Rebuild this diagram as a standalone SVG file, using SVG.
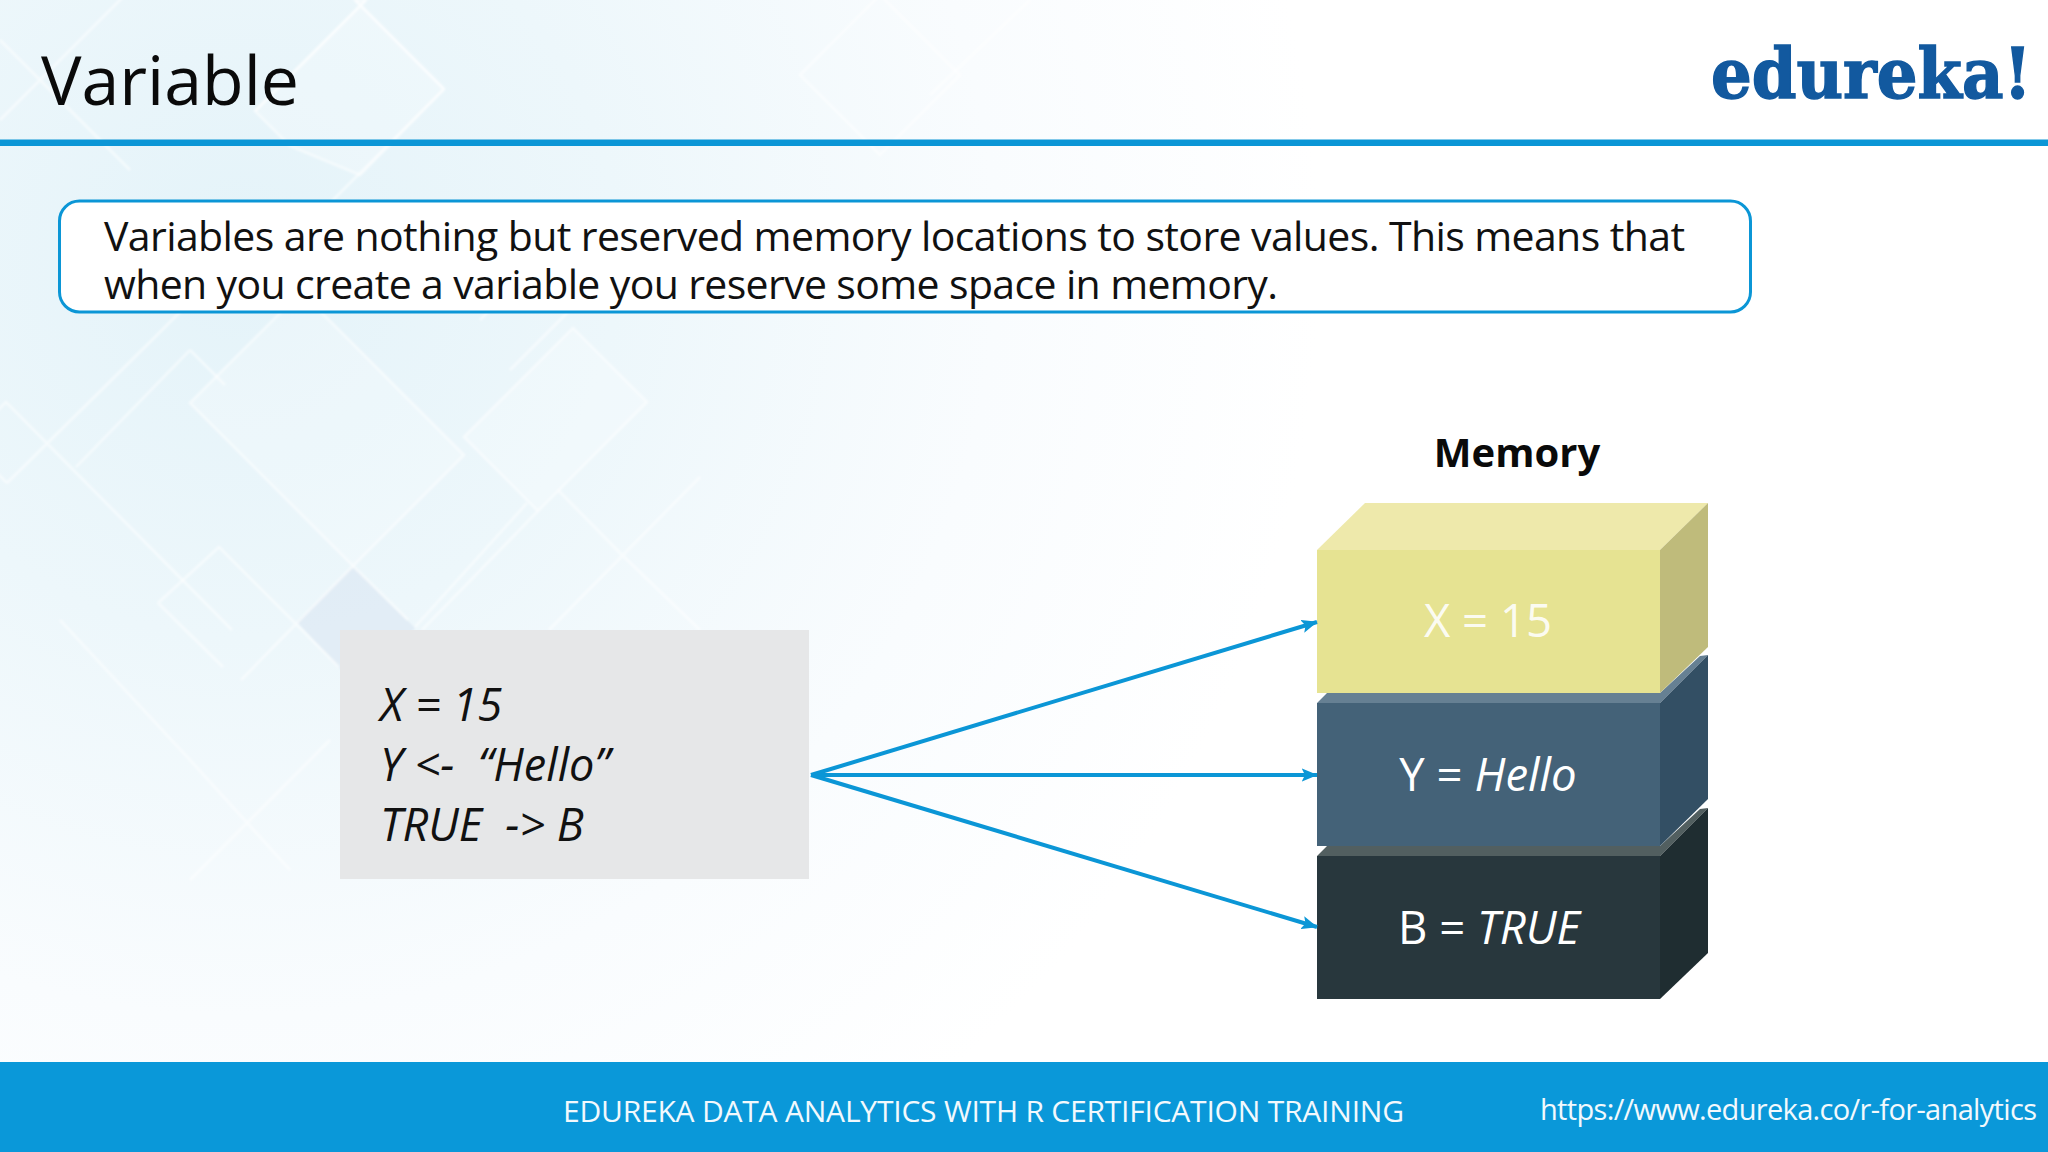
<svg xmlns="http://www.w3.org/2000/svg" width="2048" height="1152" viewBox="0 0 2048 1152">
<style>
text{font-family:"Open Sans","Noto Sans","Liberation Sans",sans-serif}
.l{fill:none;stroke:#fff;stroke-opacity:.55;stroke-width:2.5}
.f{fill:#fff;stroke:#fff;stroke-opacity:.55;stroke-width:2.5;fill-opacity:.2}
.conn{fill:none;stroke:#0b96d6;stroke-width:4;marker-end:url(#arr)}
.lab{font-size:45.500px;fill:#fff;text-anchor:middle}
.code{font-size:45px;font-style:italic;fill:#111}
</style>
<defs>
<radialGradient id="bg" gradientUnits="userSpaceOnUse" cx="240" cy="260" r="1080">
<stop offset="0" stop-color="#e4f3f9"/><stop offset=".35" stop-color="#edf7fb"/><stop offset=".7" stop-color="#f9fcfe"/><stop offset="1" stop-color="#fff"/>
</radialGradient>
<filter id="soft" x="-5%" y="-5%" width="110%" height="110%"><feGaussianBlur stdDeviation=".8"/></filter>
<marker id="arr" viewBox="0 0 12 10" refX="11.500" refY="5" markerWidth="4" markerHeight="3.400" orient="auto" markerUnits="strokeWidth"><path d="M0 0L12 5L0 10L2.500 5Z" fill="#0b96d6"/></marker>
</defs>
<rect width="2048" height="1152" fill="#fff"/>
<rect width="2048" height="1152" fill="url(#bg)"/>
<g id="background" filter="url(#soft)">
<path d="M353 566L415 628L360 690L297 622Z" fill="#dde8f4" fill-opacity=".7"/>
<path class="f" d="M190 403L301 292L464 455L353 566Z"/>
<path class="f" d="M464 437L573 328L647 402L538 511Z"/>
<path class="l" d="M-20 428L6 402L232 630M7 483L-30 446M7 483L152 340L270 222M190 350L76 467M190 350L225 385"/>
<path class="l" d="M158 603L219 547L339 667M158 603L223 667M353 566L241 680M353 566L408 620M527 503L415 627M538 511L422 630M558 490L620 553M700 477L549 630M620 553L700 630"/>
<path class="f" d="M255 111L366 0H355L444 89L360 175L290 146Z"/>
<path class="l" d="M255 111L366 0M444 89L355 0M444 89L290 243M0 40L130 170M130 -10L0 120M800 75L880 -5L960 75L880 155Z"/>
<path class="l" d="M480 320L560 240M510 370L640 240M930 95L1030 0"/>
<path class="l" d="M60 620L190 760L290 870M190 880L330 740"/>
</g>
<rect id="headerline" x="0" y="139.500" width="2048" height="6.500" fill="#0b96d6"/>
<text id="title" x="41" y="105" font-size="68" fill="#0a0a0a">Variable</text>
<text id="logo" transform="translate(1711 98) scale(.915 1)" font-size="70" font-weight="700" fill="#12599f" stroke="#12599f" stroke-width="1.500" style="font-family:'DejaVu Serif',serif">edureka!</text>
<g id="definition">
<rect x="59.500" y="201" width="1691" height="111" rx="20" fill="#fff" stroke="#0b96d6" stroke-width="3"/>
<text x="104" y="251" font-size="41" fill="#111" textLength="1581">Variables are nothing but reserved memory locations to store values. This means that</text>
<text x="104" y="299" font-size="41" fill="#111" textLength="1174">when you create a variable you reserve some space in memory.</text>
</g>
<g id="code">
<rect x="340" y="630" width="469" height="249" fill="#e6e7e8"/>
<text class="code" x="380" y="721">X = 15</text>
<text class="code" x="380" y="781" xml:space="preserve">Y &lt;-  “Hello”</text>
<text class="code" x="380" y="841" xml:space="preserve">TRUE  -&gt; B</text>
</g>
<text id="memory-label" x="1517" y="467" font-size="40" font-weight="700" fill="#0a0a0a" text-anchor="middle">Memory</text>
<g id="block-b">
<path d="M1317 856L1327 846H1660L1700 809L1708 808L1660 856Z" fill="#525f60"/>
<path d="M1660 856L1708 808V953L1660 999Z" fill="#1f2d31"/>
<rect x="1317" y="856" width="343" height="143" fill="#28373d"/>
<text class="lab" x="1489" y="944">B = <tspan font-style="italic">TRUE</tspan></text>
</g>
<g id="block-y">
<path d="M1317 703L1327 693H1660L1700 656L1708 655L1660 703Z" fill="#668093"/>
<path d="M1660 703L1708 655V799L1660 846Z" fill="#334f64"/>
<rect x="1317" y="703" width="343" height="143" fill="#446278"/>
<text class="lab" x="1488" y="791">Y = <tspan font-style="italic">Hello</tspan></text>
</g>
<g id="block-x">
<path d="M1317 550L1365 503H1708L1660 550Z" fill="#eee9ab"/>
<path d="M1660 550L1708 503V647L1660 693Z" fill="#bfbb7b"/>
<rect x="1317" y="550" width="343" height="143" fill="#e6e392"/>
<text class="lab" x="1488" y="637" fill-opacity=".9">X = 15</text>
</g>
<g id="connectors">
<path class="conn" d="M811 775L1317 622"/>
<path class="conn" d="M811 775H1317"/>
<path class="conn" d="M811 775L1317 927"/>
</g>
<g id="footer">
<rect x="0" y="1062" width="2048" height="90" fill="#0a98d9"/>
<text x="563" y="1122" font-size="30" fill="#f2f9fd" textLength="841">EDUREKA DATA ANALYTICS WITH R CERTIFICATION TRAINING</text>
<text x="1540" y="1120" font-size="29" fill="#f2f9fd" textLength="497">https://www.edureka.co/r-for-analytics</text>
</g>
</svg>
